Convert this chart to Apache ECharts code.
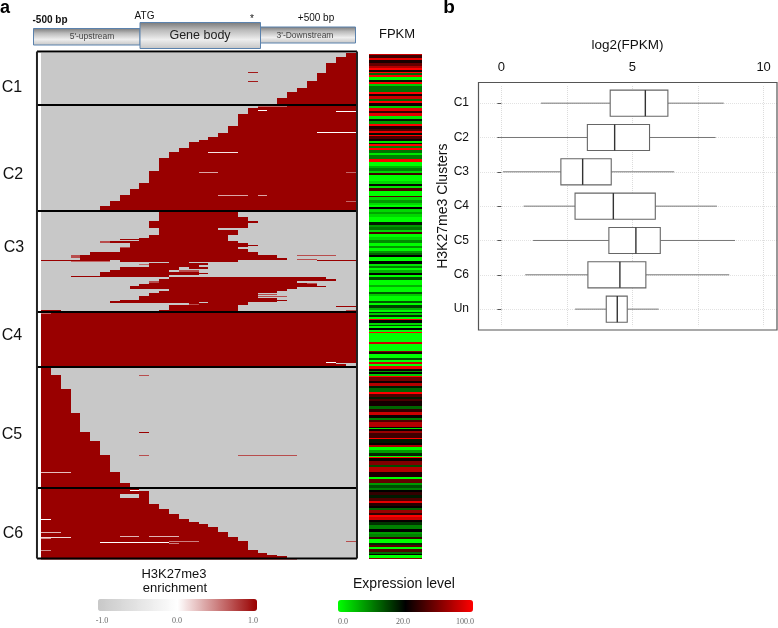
<!DOCTYPE html>
<html><head><meta charset="utf-8">
<style>html,body{margin:0;padding:0;background:#fff}#c{width:778px;height:628px}</style>
<script src="https://cdn.jsdelivr.net/npm/echarts@6/dist/echarts.min.js"></script>
</head><body><div id="c"></div>
<script>
// ---------- Panel a: rows (top to bottom) x bins (-500bp .. +500bp) ----------
const clusterNames = ['C1','C2','C3','C4','C5','C6'];
const clusterBreaks = [3,55,161,262,317,438,508];
// [first row, first enriched bin] : enriched through to the last bin
const stairC1C2 = [[3,31],[7,30],[13,29],[23,28],[31,27],[38,26],[42,25],[48,24],[54,23],[56,22],[58,21],[64,20],[76,19],[83,18],[87,17],[90,16],[92,15],[98,14],[102,13],[108,12],[121,11],[133,10],[139,9],[145,8],[151,7],[156,6],[160,5],[161,5]];
// [first row, last enriched bin] : enriched from the first bin
const stairC5C6 = [[318,1],[325,2],[339,3],[363,4],[382,5],[391,6],[405,7],[422,8],[433,9],[439,10],[441,11],[454,12],[459,13],[464,14],[469,15],[472,16],[474,17],[477,18],[482,19],[487,20],[491,21],[500,22],[503,23],[505,24],[506,25],[508,25]];
// [row from, row to, bin from, bin to, enrichment]
const blocksC3 = [[162,167,12,20,1],[167,171,12,21,1],[171,173,11,22,1],[173,178,11,21,1],[178,180,12,18,1],[180,185,12,20,1],[185,188,11,19,1],[188,191,10,19,1],[189,190,8,10,1],[191,193,6,7,.7],[191,193,7,20,1],[193,197,9,21,1],[195,196,21,22,1],[197,199,8,20,1],[197,198,8,9,.7],[199,202,8,21,1],[202,205,5,22,1],[205,208,3,4,.7],[205,208,4,24,1],[205,206,26,30,.7],[208,210,4,25,1],[209,210,26,28,.7],[210,212,8,20,1],[210,211,0,7,1],[211,212,3,7,.6],[210,211,28,32,1],[212,213,13,15,1],[213,215,11,17,1],[214,215,10,11,.6],[215,217,11,16,1],[217,220,8,14,1],[217,219,15,17,1],[220,222,7,13,1],[220,222,14,16,.7],[222,225,6,16,1],[223,224,16,17,1],[226,227,3,6,1],[225,227,6,13,1],[227,229,13,29,1],[229,231,12,30,1],[231,233,12,26,1],[231,233,11,12,.7],[233,234,11,27,1],[233,234,27,28,.7],[234,236,10,28,1],[236,239,9,26,1],[236,237,26,29,1],[239,241,13,25,1],[241,243,12,24,1],[243,246,11,22,1],[244,245,22,24,.7],[246,248,10,22,1],[246,247,22,25,.7],[248,250,10,24,1],[250,251,8,25,1],[251,252,7,24,1],[252,253,7,16,1],[252,253,17,21,1],[253,255,15,21,1],[254,255,15,16,.7],[255,257,13,20,1],[257,260,13,20,1],[260,261,12,20,1],[260,261,0,2,1],[256,257,30,32,1],[260,261,31,32,.7]];
const blocksC4 = [[263,317,0,32,1],[263,264,0,1,.6],[312,313,29,30,0],[313,314,30,32,-1],[314,316,31,32,-1],[316,317,30,32,-1]];
const blocksC6Holes = [[440,441,9,10,0],[444,448,8,10,-1]];
const thinLines = [[22,23,21,22,.9],[31,32,21,22,.9],[56,57,22,25,.6],[60,61,22,23,0],[61,62,30,32,0],[82,83,28,32,0],[102,103,17,20,.1],[122,123,16,18,.35],[122,123,31,32,.6],[145,146,18,21,.35],[145,146,22,23,.35],[151,152,31,32,.6],[325,326,10,11,.7],[382,383,10,11,1],[405,406,10,11,.7],[405,406,20,26,.7],[422,423,0,3,.25],[469,470,0,1,0],[482,483,0,2,.3],[487,488,0,3,.15],[488,489,0,1,.45],[500,501,0,1,.45],[486,487,8,10,.3],[486,487,11,14,.3],[492,493,6,13,0],[491,492,13,16,.5],[493,494,13,14,.5],[491,492,31,32,.7],[509,510,0,26,.5]];

// ---------- FPKM strip: [rows, level] -1 green, 0 black, 1 red ----------
const fpkmBlock1 = [[1,.8],[3,.25],[2,.9],[3,.1],[3,.4],[2,.7],[2,1],[2,.1],[1,1],[2,-.4],[2,1],[3,-1],[2,-.1],[2,1],[2,-.8],[6,-.45],[2,1],[2,.1],[3,.8],[2,-.4],[2,1],[3,.05],[2,-.8],[3,.9],[2,.2],[3,.9],[3,-.9],[2,-.1],[3,-.6],[2,1],[3,.1],[2,.3],[2,.9],[2,-.05],[1,1]];
const fpkmBlock2 = [[3,.3],[2,.05],[2,-.9],[1,-.1],[2,1],[2,-.5],[2,1],[3,-.45],[2,-.9],[4,-.5],[3,1],[4,-1],[2,-.7],[3,-.5],[2,-.85],[2,.25],[6,-1],[3,-.85],[2,-.05],[2,-.9],[3,.3],[5,-1],[1,.35],[3,-.85],[3,-.6],[2,-.85],[2,-1],[2,0],[3,-.85],[2,-.65],[3,-.85],[5,-1]];
const fpkmBlock3 = [[3,-.1],[2,-.6],[3,-.45],[2,-.85],[2,.3],[3,-1],[3,-.85],[3,-.55],[3,-1],[2,-.6],[3,-1],[2,-.6],[2,-.4],[2,0],[4,-1],[3,0],[2,-.9],[2,-.5],[2,-1],[3,-.7],[2,0],[2,-1],[3,-.3],[5,-1],[2,-.7],[5,-1],[2,-.35],[2,-.8],[5,-1],[2,-.35],[2,-1],[3,-.25]];
const fpkmBlock4 = [[2,-.7],[2,-1],[1,-.2],[2,-.8],[2,-.2],[2,-1],[1,1],[3,0],[2,-.85],[1,-.3],[2,-1],[2,0],[2,-1],[1,1],[9,-1],[2,.8],[7,-1],[1,.5],[2,.1],[4,-1],[2,-.3],[2,-1],[2,.8],[2,-1],[3,.9],[2,.05],[1,-.6],[2,0],[2,-.8],[1,1],[4,.45],[2,.05],[3,.7],[2,-.1],[4,-.4],[2,1]];
const fpkmBlock5 = [[3,.3],[2,-.1],[2,.3],[5,.08],[3,-.4],[3,.2],[3,.8],[3,.05],[2,-.5],[2,.3],[5,.7],[1,.05],[1,-.9],[2,.05],[2,.6],[5,.25],[1,1],[4,-.1],[2,.02],[2,.7],[3,-1],[3,-.6],[3,-.15],[1,-1],[1,1],[3,.05],[4,.5],[2,-.3],[5,.7],[3,.1],[2,.1],[2,-1]];
const fpkmBlock6 = [[4,.4],[2,-.6],[3,-.3],[2,-.5],[2,0],[3,.2],[3,-.1],[3,.3],[2,.9],[3,.15],[2,.02],[2,-.4],[3,.6],[2,.2],[2,1],[3,.8],[2,.02],[3,-.2],[4,-.5],[3,0],[2,-.6],[3,-.5],[2,.2],[4,-1],[2,-.15],[2,.35],[2,-1],[3,.3],[2,-.4],[1,0],[3,-1],[1,.5]];
const fpkmFirstRow = 4;

// ---------- Panel b: box plot ----------
const boxCategories = ['C1','C2','C3','C4','C5','C6','Un'];
const boxLow    = [1.51,-0.09,0.06,0.85,1.21,0.91,2.81];
const boxQ1     = [4.15,3.28,2.27,2.81,4.10,3.30,4.00];
const boxMedian = [5.49,4.32,3.10,4.27,5.13,4.52,4.42];
const boxQ3     = [6.35,5.65,4.19,5.87,6.06,5.51,4.80];
const boxHigh   = [8.48,8.17,6.59,8.22,8.91,8.69,6.00];
const xLabelTicks = [0,5,10];
const xGridTicks = [0,2.5,5,7.5,10];

// ---------- build ----------
const heatData = [];
clusterBreaks.slice(0,-1).forEach((r,i)=>heatData.push([r,clusterBreaks[i+1],0,32,-1]));
stairC1C2.slice(0,-1).forEach((s,i)=>heatData.push([s[0],stairC1C2[i+1][0],s[1],32,1]));
blocksC3.forEach(b=>heatData.push(b));
blocksC4.forEach(b=>heatData.push(b));
stairC5C6.slice(0,-1).forEach((s,i)=>heatData.push([s[0],stairC5C6[i+1][0],0,s[1],1]));
blocksC6Holes.forEach(b=>heatData.push(b));
thinLines.forEach(b=>heatData.push(b));

const fpkmData = [];
let rowCursor = fpkmFirstRow;
[fpkmBlock1,fpkmBlock2,fpkmBlock3,fpkmBlock4,fpkmBlock5,fpkmBlock6].forEach(block=>{
  block.forEach(r=>{fpkmData.push([rowCursor,rowCursor+r[0],0,1,r[1]]);rowCursor+=r[0];});
});

const boxData = boxCategories.map((c,i)=>[i,boxLow[i],boxQ1[i],boxMedian[i],boxQ3[i],boxHigh[i]]);

function cellItem(params,api){
  const p1 = api.coord([api.value(2),api.value(0)]);
  const p2 = api.coord([api.value(3),api.value(1)]);
  const x = Math.round(p1[0]), y = Math.round(p1[1]);
  return {type:'rect',shape:{x:x,y:y,width:Math.round(p2[0])-x,height:Math.max(1,Math.round(p2[1])-y)},
    style:{fill:api.visual('color')}};
}
function frameItem(params,api){
  const r = api.value(0);
  const a = api.coord([-0.41,r]), b = api.coord([32.1,r]);
  return {type:'line',shape:{x1:a[0],y1:a[1],x2:b[0],y2:b[1]},style:{stroke:'#000',lineWidth:2}};
}
const clusterEdgesTop = 1.5, clusterEdgesBottom = 508.5;
function frameSideItem(params,api){
  const a = api.coord([api.value(0),clusterEdgesTop]), b = api.coord([api.value(0),clusterEdgesBottom]);
  return {type:'line',shape:{x1:a[0],y1:a[1],x2:b[0],y2:b[1]},style:{stroke:'#222',lineWidth:2}};
}
function boxItem(params,api){
  const y = api.value(0);
  const lo = api.coord([api.value(1),y]), q1 = api.coord([api.value(2),y]), md = api.coord([api.value(3),y]);
  const q3 = api.coord([api.value(4),y]), hi = api.coord([api.value(5),y]);
  const h = api.size([0,1])[1]*0.76;
  return {type:'group',children:[
    {type:'line',shape:{x1:lo[0],y1:lo[1],x2:q1[0],y2:q1[1]},style:{stroke:'#777',lineWidth:1}},
    {type:'line',shape:{x1:q3[0],y1:q3[1],x2:hi[0],y2:hi[1]},style:{stroke:'#777',lineWidth:1}},
    {type:'rect',shape:{x:q1[0],y:q1[1]-h/2,width:q3[0]-q1[0],height:h},style:{fill:'#fff',stroke:'#666',lineWidth:1.1}},
    {type:'line',shape:{x1:md[0],y1:md[1]-h/2,x2:md[0],y2:md[1]+h/2},style:{stroke:'#333',lineWidth:1.4}}
  ]};
}
const sans = '"Liberation Sans",Arial,sans-serif';
function label(text,x,y,font,fill){
  return {type:'text',x:x,y:y,style:{text:text,align:'center',verticalAlign:'middle',textAlign:'center',textVerticalAlign:'middle',font:font,fill:fill||'#111'},silent:true};
}
const barFill = {type:'linear',x:0,y:0,x2:0,y2:1,colorStops:[{offset:0,color:'#777'},{offset:.3,color:'#bbb'},{offset:.65,color:'#eee'},{offset:1,color:'#c4c4c4'}]};
function geneBar(x1,y1,x2,y2){
  return {type:'rect',shape:{x:x1,y:y1,width:x2-x1,height:y2-y1},style:{fill:barFill,stroke:'#5b82ad',lineWidth:1},silent:true};
}

const clusterLabelY = [88,175,248,336,435,534];
const clusterLabelX = [12,13,14,12,12,13];

const option = {
  animation:false,
  backgroundColor:'#fff',
  grid:[
    {left:41,top:50,width:315,height:510},
    {left:369,top:50,width:52.5,height:510},
    {left:478,top:86,width:299,height:240.3}
  ],
  xAxis:[
    {gridIndex:0,type:'value',min:0,max:32,show:false},
    {gridIndex:1,type:'value',min:0,max:1,show:false},
    {gridIndex:2,type:'value',position:'top',min:-0.89,max:10.51,
      name:'log2(FPKM)',nameLocation:'middle',nameGap:34,
      nameTextStyle:{fontFamily:'"Liberation Sans"',fontSize:13.5,color:'#111'},
      axisLine:{show:false},
      axisTick:{show:false,customValues:xGridTicks},
      axisLabel:{customValues:xLabelTicks,fontFamily:'"Liberation Sans"',fontSize:13,color:'#111',margin:12},
      splitLine:{show:true,lineStyle:{color:'#dcdcdc',type:'dotted',width:1}}}
  ],
  yAxis:[
    {gridIndex:0,type:'value',min:0,max:510,inverse:true,show:false},
    {gridIndex:1,type:'value',min:0,max:510,inverse:true,show:false},
    {gridIndex:2,type:'category',data:boxCategories,inverse:true,
      name:'H3K27me3 Clusters',nameLocation:'middle',nameGap:28,nameRotate:90,
      nameTextStyle:{fontFamily:'"Liberation Sans"',fontSize:14,color:'#111'},
      axisLine:{show:false},
      axisTick:{show:true,length:4,alignWithLabel:true,lineStyle:{color:'#555'}},
      axisLabel:{fontFamily:'"Liberation Sans"',fontSize:12,color:'#111',margin:9},
      splitLine:{show:true,alignWithLabel:true,lineStyle:{color:'#e2e2e2',type:'dotted'}}}
  ],
  visualMap:[
    {type:'continuous',seriesIndex:0,dimension:4,min:-1,max:1,orient:'horizontal',
      left:98,top:599,itemWidth:12,itemHeight:159,padding:0,calculable:false,hoverLink:false,text:null,
      inRange:{color:['#c8c8c8','#ffffff','#990000']},textStyle:{fontSize:1,color:'rgba(0,0,0,0)'},formatter:()=>''},
    {type:'continuous',seriesIndex:2,dimension:4,min:-1,max:1,orient:'horizontal',
      left:338,top:600,itemWidth:12,itemHeight:135,padding:0,calculable:false,hoverLink:false,text:null,
      inRange:{color:['#00ff00','#000000','#ff0000']},textStyle:{fontSize:1,color:'rgba(0,0,0,0)'},formatter:()=>''}
  ],
  series:[
    {type:'custom',name:'H3K27me3 enrichment',xAxisIndex:0,yAxisIndex:0,renderItem:cellItem,data:heatData,
      dimensions:['rowFrom','rowTo','binFrom','binTo','enrichment'],encode:{x:[2,3],y:[0,1]},silent:true},
    {type:'custom',name:'cluster lines',xAxisIndex:0,yAxisIndex:0,renderItem:frameItem,z:5,silent:true,
      data:[1.5,55,161,262,317,438,508.5].map(r=>[r]),encode:{y:0}},
    {type:'custom',name:'FPKM',xAxisIndex:1,yAxisIndex:1,renderItem:cellItem,data:fpkmData,
      dimensions:['rowFrom','rowTo','binFrom','binTo','level'],encode:{x:[2,3],y:[0,1]},silent:true},
    {type:'custom',name:'log2(FPKM)',xAxisIndex:2,yAxisIndex:2,renderItem:boxItem,data:boxData,
      encode:{x:[1,2,3,4,5],y:0},silent:true,z:3},
    {type:'custom',name:'frame sides',xAxisIndex:0,yAxisIndex:0,renderItem:frameSideItem,z:5,silent:true,
      data:[[-0.41],[32.1]],encode:{x:0}}
  ],
  graphic:{elements:[
    geneBar(33.5,28.5,140,45), geneBar(260,27,355.5,43), geneBar(140,22.5,260.5,48.5),
    label("5'-upstream",92,37,'8.5px '+sans,'#444'),
    label('Gene body',200,35.5,'12.5px '+sans,'#222'),
    label("3'-Downstream",305,35.5,'8.5px '+sans,'#444'),
    label('-500 bp',50,20.5,'bold 10px '+sans),
    label('ATG',144.5,16,'10px '+sans),
    label('*',252,19,'10px '+sans),
    label('+500 bp',316,18.5,'10px '+sans),
    label('FPKM',397,34,'13px '+sans),
    label('a',5,8,'bold 18px '+sans,'#000'),
    label('b',449,8,'bold 19px '+sans,'#000'),
    ...clusterNames.map((n,i)=>label(n,clusterLabelX[i],clusterLabelY[i],'16px '+sans)),
    label('H3K27me3',174,574,'13px '+sans),
    label('enrichment',175,588,'13px '+sans),
    label('Expression level',404,584,'14px '+sans),
    label('-1.0',102,621,'8px "Liberation Serif"','#666'),
    label('0.0',177,621,'8px "Liberation Serif"','#666'),
    label('1.0',253,621,'8px "Liberation Serif"','#666'),
    label('0.0',343,622,'8px "Liberation Serif"','#666'),
    label('20.0',403,622,'8px "Liberation Serif"','#666'),
    label('100.0',465,622,'8px "Liberation Serif"','#666'),
    {type:'rect',shape:{x:478.5,y:82.5,width:298.5,height:247.5},style:{fill:'none',stroke:'#555',lineWidth:1.2},silent:true,z:10}
  ]}
};
const chart = echarts.init(document.getElementById('c'),null,{renderer:'canvas'});
chart.setOption(option);
</script></body></html>
